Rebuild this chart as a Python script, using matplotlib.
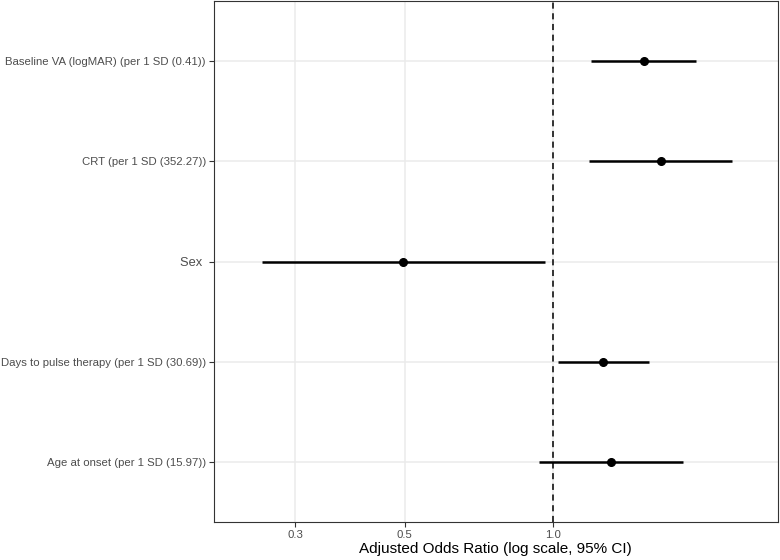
#!/usr/bin/env python3
import matplotlib
matplotlib.use("Agg")
import matplotlib.pyplot as plt
from matplotlib.ticker import FixedLocator, NullLocator

plt.rcParams["font.family"] = ["Liberation Sans", "DejaVu Sans"]

# bottom to top, as drawn
labels = [
    "Age at onset (per 1 SD (15.97))",
    "Days to pulse therapy (per 1 SD (30.69))",
    "Sex ",
    "CRT (per 1 SD (352.27))",
    "Baseline VA (logMAR) (per 1 SD (0.41))",
]
odds_ratio = [1.31, 1.263, 0.496, 1.656, 1.527]
ci_low = [0.937, 1.022, 0.2566, 1.185, 1.194]
ci_high = [1.838, 1.564, 0.963, 2.311, 1.953]
x_ticks = [0.3, 0.5, 1.0]
x_tick_labels = ["0.3", "0.5", "1.0"]

fig = plt.figure(figsize=(7.8, 5.6), dpi=100)
ax = fig.add_axes([213.5 / 780, 38 / 560, (778 - 213.5) / 780, (560 - 38 - 1) / 560])

ypos = list(range(1, len(labels) + 1))

ax.set_xscale("log")
ax.set_xlim(0.2048, 2.86)
ax.set_ylim(0.4, 5.6)

grid_col = "#ebebeb"
for t in x_ticks:
    ax.axvline(t, color=grid_col, linewidth=1.1, zorder=0)
for y in ypos:
    ax.axhline(y, color=grid_col, linewidth=1.1, zorder=0)

ax.axvline(1.0, color="black", linewidth=1.1, linestyle=(0, (4, 3)), zorder=1)

ax.hlines(ypos, ci_low, ci_high, color="black", linewidth=1.8, zorder=2)
ax.plot(odds_ratio, ypos, "o", color="black", markersize=5.5, zorder=3)

ax.xaxis.set_major_locator(FixedLocator(x_ticks))
ax.xaxis.set_minor_locator(NullLocator())
ax.set_xticklabels(x_tick_labels)
ax.set_yticks(ypos)
ax.set_yticklabels(labels)

ax.tick_params(axis="both", colors="#333333", labelcolor="#4d4d4d",
               labelsize=8.2, length=3.5, width=0.8, pad=2)
for lab in ax.get_yticklabels():
    if lab.get_text().strip() == "Sex":
        lab.set_fontsize(9.3)
for s in ax.spines.values():
    s.set_color("#333333")
    s.set_linewidth(0.8)

ax.set_xlabel("Adjusted Odds Ratio (log scale, 95% CI)", fontsize=11, labelpad=2)

fig.savefig("out.png", dpi=100)
